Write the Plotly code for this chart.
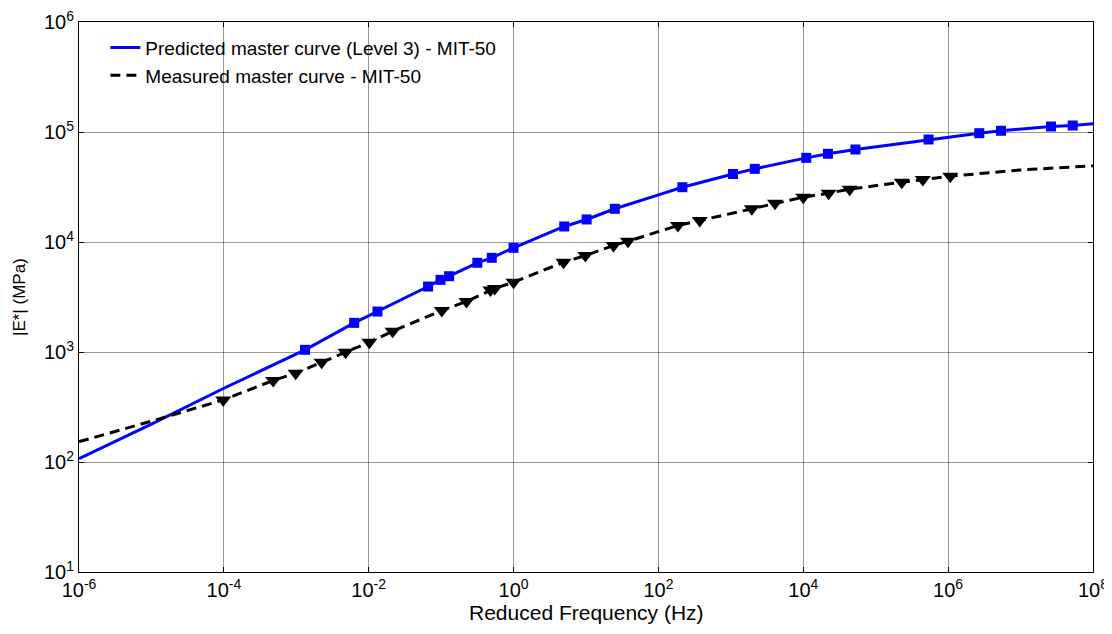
import plotly.graph_objects as go

# Predicted master curve (Level 3) - markers
pred_freq = [1.32e-3, 6.3e-3, 1.32e-2, 6.6e-2, 9.8e-2, 0.129, 0.316, 0.50, 1.0, 5.0, 10.2, 25,
             214, 1070, 2140, 11000, 21900, 52500, 537000, 2.69e6, 5.37e6, 2.63e7, 5.25e7]
pred_E = [1047, 1841, 2333, 3936, 4529, 4887, 6471, 7178, 8851, 13840, 16030, 20040,
          31480, 41500, 46240, 58210, 63390, 69340, 85500, 97500, 102600, 112200, 114600]
# Predicted master curve - line
pred_line_freq = [1e-6, 1e-5, 1e-4] + pred_freq[:12] + [100] + pred_freq[12:] + [1e8]
pred_line_E = [107, 221, 468] + pred_E[:12] + [26850] + pred_E[12:] + [118900]

# Measured master curve - markers
meas_freq = [9.8e-5, 4.8e-4, 9.8e-4, 2.24e-3, 4.8e-3, 1.02e-2, 2.14e-2, 0.102, 0.224, 0.479, 0.55,
             1.0, 4.9, 9.8, 24, 38, 186, 372, 1950, 4070, 10000, 22400, 43700, 229000, 447000, 1.07e6]
meas_E = [367, 551, 641, 807, 995, 1227, 1545, 2382, 2877, 3664, 3776,
          4315, 6546, 7534, 9290, 10160, 14130, 15670, 20040, 22540, 25530, 27800, 30200, 34990, 36980, 39630]
meas_line_freq = [1e-6, 1e-5] + meas_freq + [1e7, 1e8]
meas_line_E = [153, 235] + meas_E + [45200, 49300]

x_tick_vals = [1e-6, 1e-4, 1e-2, 1e0, 1e2, 1e4, 1e6, 1e8]
x_tick_text = ["10<sup>-6</sup>", "10<sup>-4</sup>", "10<sup>-2</sup>", "10<sup>0</sup>",
               "10<sup>2</sup>", "10<sup>4</sup>", "10<sup>6</sup>", "10<sup>8</sup>"]
y_tick_vals = [1e1, 1e2, 1e3, 1e4, 1e5, 1e6]
y_tick_text = ["10<sup>1</sup>", "10<sup>2</sup>", "10<sup>3</sup>", "10<sup>4</sup>",
               "10<sup>5</sup>", "10<sup>6</sup>"]

BLUE = "#0000ff"
FONT = "Liberation Sans, Arial, sans-serif"

fig = go.Figure()
fig.add_trace(go.Scatter(x=pred_line_freq, y=pred_line_E, mode="lines",
                         line=dict(color=BLUE, width=3),
                         name="Predicted master curve (Level 3) - MIT-50"))
fig.add_trace(go.Scatter(x=meas_line_freq, y=meas_line_E, mode="lines",
                         line=dict(color="black", width=3, dash="10px,6px"),
                         name="Measured master curve - MIT-50"))
fig.add_trace(go.Scatter(x=pred_freq, y=pred_E, mode="markers",
                         marker=dict(symbol="square", size=10, color=BLUE),
                         showlegend=False))
fig.add_trace(go.Scatter(x=meas_freq, y=meas_E, mode="markers",
                         marker=dict(symbol="triangle-down", size=14, color="black"),
                         showlegend=False))

axis_common = dict(
    type="log", showgrid=True, gridcolor="rgba(0,0,0,0.4)", gridwidth=1,
    showline=True, linecolor="black", linewidth=1, mirror="allticks",
    ticks="inside", ticklen=5, tickcolor="black",
    tickfont=dict(family=FONT, size=20, color="black"),
    zeroline=False, automargin=False, ticklabeloverflow="allow",
)
fig.update_xaxes(**axis_common, range=[-6, 8], tickvals=x_tick_vals, ticktext=x_tick_text)
fig.update_yaxes(**axis_common, range=[1, 6], tickvals=y_tick_vals, ticktext=y_tick_text)

fig.add_annotation(text="Reduced Frequency (Hz)", xref="paper", yref="paper", x=0.5, y=0,
                   xanchor="center", yanchor="middle", yshift=-40, showarrow=False,
                   font=dict(family=FONT, size=21, color="black"))
fig.add_annotation(text="|E*| (MPa)", xref="paper", yref="paper", x=0, y=0.5,
                   xanchor="center", yanchor="middle", xshift=-60, textangle=-90, showarrow=False,
                   font=dict(family=FONT, size=17, color="black"))

# page body has an 8px margin, so the figure is sized/offset to compensate
fig.update_layout(
    width=1104, height=626,
    margin=dict(l=71, r=19, t=13.5, b=62, autoexpand=False),
    plot_bgcolor="white", paper_bgcolor="white",
    font=dict(family=FONT, size=16, color="black"),
    legend=dict(x=0.026, y=0.988, xanchor="left", yanchor="top",
                bgcolor="rgba(0,0,0,0)", borderwidth=0,
                font=dict(family=FONT, size=19, color="black"),
                tracegroupgap=0),
)
fig.write_html("out.html")
